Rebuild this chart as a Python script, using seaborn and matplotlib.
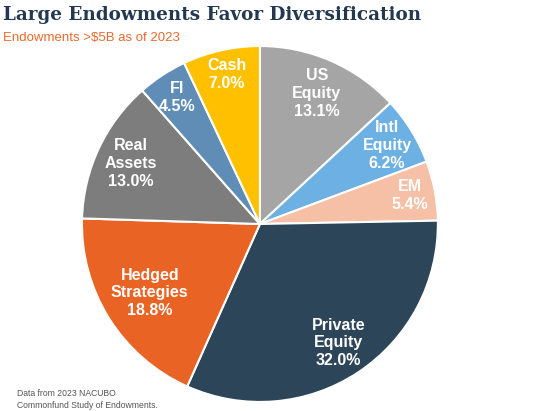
import numpy as np
import matplotlib
matplotlib.use("Agg")
import matplotlib.pyplot as plt
import seaborn as sns

# Данные
categories = ['US\nEquity', 'Intl\nEquity', 'EM', 'Private\nEquity',
              'Hedged\nStrategies', 'Real\nAssets', 'FI', 'Cash']
shares = [13.1, 6.2, 5.4, 32.0, 18.8, 13.0, 4.5, 7.0]
colors = ['#a5a5a5', '#6db0e3', '#f6c0a6', '#2c4559',
          '#e96324', '#7d7d7d', '#5f8db5', '#ffc000']
label_dist = [0.80, 0.84, 0.86, 0.80, 0.73, 0.80, 0.85, 0.86]

sns.set_theme(style='white')
plt.rcParams['font.family'] = ['Liberation Sans', 'DejaVu Sans']

fig = plt.figure(figsize=(5.53, 4.11), dpi=100)
ax = fig.add_axes([0.148, 0.022, 0.644, 0.866])

wedges, _ = ax.pie(shares, colors=sns.color_palette(colors), startangle=90,
                   counterclock=False,
                   wedgeprops=dict(edgecolor='white', linewidth=1.5))

for w, name, val, d in zip(wedges, categories, shares, label_dist):
    ang = np.deg2rad((w.theta1 + w.theta2) / 2)
    ax.text(d * np.cos(ang), d * np.sin(ang), f'{name}\n{val:.1f}%',
            ha='center', va='center', color='white', fontsize=11.5,
            fontweight='bold', linespacing=1.22)
ax.set_aspect('equal')
ax.set_xlim(-1.0, 1.0)
ax.set_ylim(-1.0, 1.0)

fig.text(0.005, 0.963, 'Large Endowments Favor Diversification',
         family='DejaVu Serif', fontweight='bold', fontsize=13.2,
         color='#24394f', va='center')
fig.text(0.005, 0.908, 'Endowments >$5B as of 2023', fontsize=9.5,
         color='#ec6a2c', va='center')
fig.text(0.031, 0.027, 'Data from 2023 NACUBO\nCommonfund Study of Endowments.',
         fontsize=6.2, color='#555555', va='center', linespacing=1.45)

plt.savefig('out.png', dpi=100)
